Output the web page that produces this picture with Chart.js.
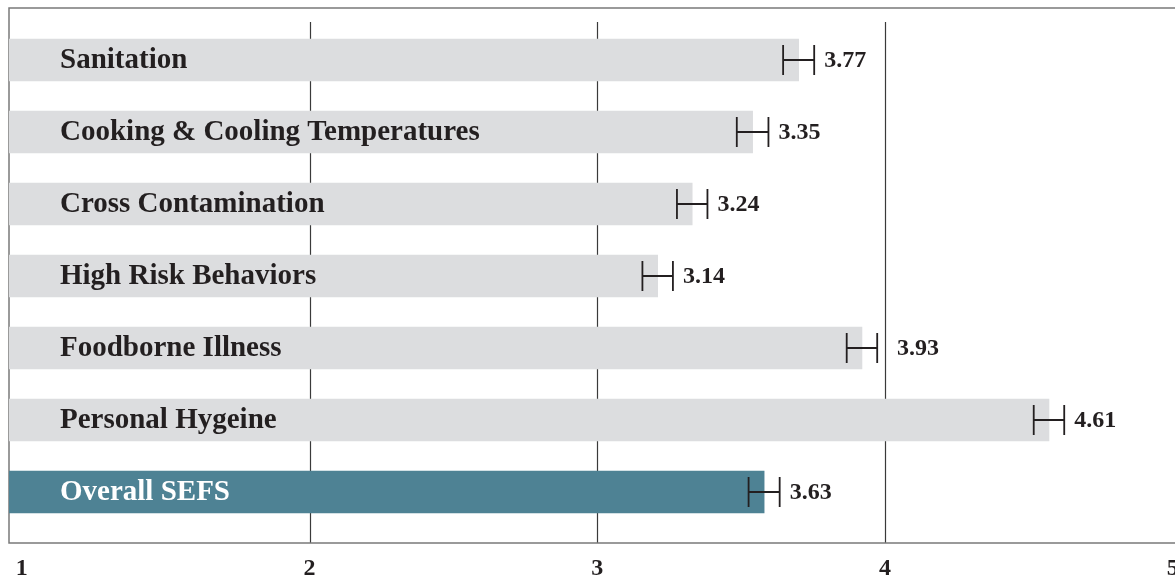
<!DOCTYPE html>
<html>
<head>
<meta charset="utf-8">
<script src="https://cdn.jsdelivr.net/npm/chart.js@4.4.1/dist/chart.umd.min.js"></script>
<style>
  html, body { margin: 0; padding: 0; background: #ffffff; }
  #wrap { width: 1175px; height: 580px; position: relative; }
</style>
</head>
<body>
<div id="wrap"><canvas id="c"></canvas></div>
<script>
const categories = ['Sanitation', 'Cooking & Cooling Temperatures', 'Cross Contamination', 'High Risk Behaviors', 'Foodborne Illness', 'Personal Hygeine', 'Overall SEFS'];
const barValues = [3.70, 3.54, 3.33, 3.21, 3.92, 4.57, 3.58];
const errorValues = [0.054, 0.055, 0.053, 0.053, 0.053, 0.053, 0.054];
const valueLabels = ['3.77', '3.35', '3.24', '3.14', '3.93', '4.61', '3.63'];
const tickValues = [1, 2, 3, 4, 5];
const gridValues = [2, 3, 4];

const FONT = '"Liberation Serif", "Times New Roman", serif';
const INK = '#231f20';
const GRAY = '#dcdddf';
const TEAL = '#4e8294';

const barColors = categories.map((c, i) => i === categories.length - 1 ? TEAL : GRAY);

const framePlugin = {
  id: 'frame',
  beforeDatasetsDraw(chart) {
    const ctx = chart.ctx, a = chart.chartArea, xs = chart.scales.x;
    ctx.save();
    ctx.strokeStyle = '#3a3a3a';
    ctx.lineWidth = 1.2;
    gridValues.forEach(v => {
      const x = Math.round(xs.getPixelForValue(v)) + 0.5;
      ctx.beginPath();
      ctx.moveTo(x, a.top - 2);
      ctx.lineTo(x, a.bottom + 15);
      ctx.stroke();
    });
    ctx.strokeStyle = '#7a7a7a';
    ctx.lineWidth = 1.5;
    ctx.beginPath();
    ctx.moveTo(a.right + 2, a.top - 16);
    ctx.lineTo(a.left, a.top - 16);
    ctx.lineTo(a.left, a.bottom + 15);
    ctx.lineTo(a.right + 2, a.bottom + 15);
    ctx.stroke();
    ctx.restore();
  },
  afterDatasetsDraw(chart) {
    const ctx = chart.ctx, a = chart.chartArea, xs = chart.scales.x, ys = chart.scales.y;
    ctx.save();
    ctx.font = 'bold 29px ' + FONT;
    ctx.textBaseline = 'middle';
    ctx.textAlign = 'left';
    categories.forEach((c, i) => {
      const y = ys.getPixelForValue(i);
      ctx.fillStyle = i === categories.length - 1 ? '#ffffff' : INK;
      ctx.fillText(c, a.left + 51, y + 1);
    });
    ctx.strokeStyle = INK;
    ctx.lineWidth = 1.8;
    ctx.font = 'bold 24px ' + FONT;
    ctx.fillStyle = INK;
    const gridPx = gridValues.map(v => xs.getPixelForValue(v));
    barValues.forEach((v, i) => {
      const y = ys.getPixelForValue(i);
      const x1 = xs.getPixelForValue(v - errorValues[i]);
      const x2 = xs.getPixelForValue(v + errorValues[i]);
      ctx.beginPath();
      ctx.moveTo(x1, y); ctx.lineTo(x2, y);
      ctx.moveTo(x1, y - 15); ctx.lineTo(x1, y + 15);
      ctx.moveTo(x2, y - 15); ctx.lineTo(x2, y + 15);
      ctx.stroke();
      let tx = x2 + 10;
      const w = ctx.measureText(valueLabels[i]).width;
      gridPx.forEach(g => { if (g > x2 && g < tx + w) tx = g + 12; });
      ctx.fillText(valueLabels[i], tx, y + 1);
    });
    ctx.restore();
  }
};

new Chart(document.getElementById('c'), {
  type: 'bar',
  data: {
    labels: categories,
    datasets: [{
      data: barValues,
      backgroundColor: barColors,
      borderWidth: 0,
      barThickness: 42
    }]
  },
  options: {
    indexAxis: 'y',
    responsive: true,
    maintainAspectRatio: false,
    animation: false,
    layout: { padding: { left: 9, right: 0, top: 24, bottom: 0 } },
    plugins: { legend: { display: false }, tooltip: { enabled: false } },
    scales: {
      x: {
        type: 'linear',
        min: 0.9555,
        max: 5.008,
        afterBuildTicks: s => { s.ticks = tickValues.map(v => ({ value: v })); },
        afterFit: s => { s.height = 52; s.paddingLeft = 0; s.paddingRight = 0; },
        grid: { display: false, drawTicks: false },
        border: { display: false },
        ticks: {
          padding: 29,
          color: INK,
          maxRotation: 0,
          autoSkip: false,
          font: { family: FONT, size: 24, weight: 'bold', lineHeight: 1 },
          callback: v => String(v)
        }
      },
      y: {
        display: false,
        offset: true,
        grid: { display: false }
      }
    }
  },
  plugins: [framePlugin]
});
</script>
</body>
</html>
